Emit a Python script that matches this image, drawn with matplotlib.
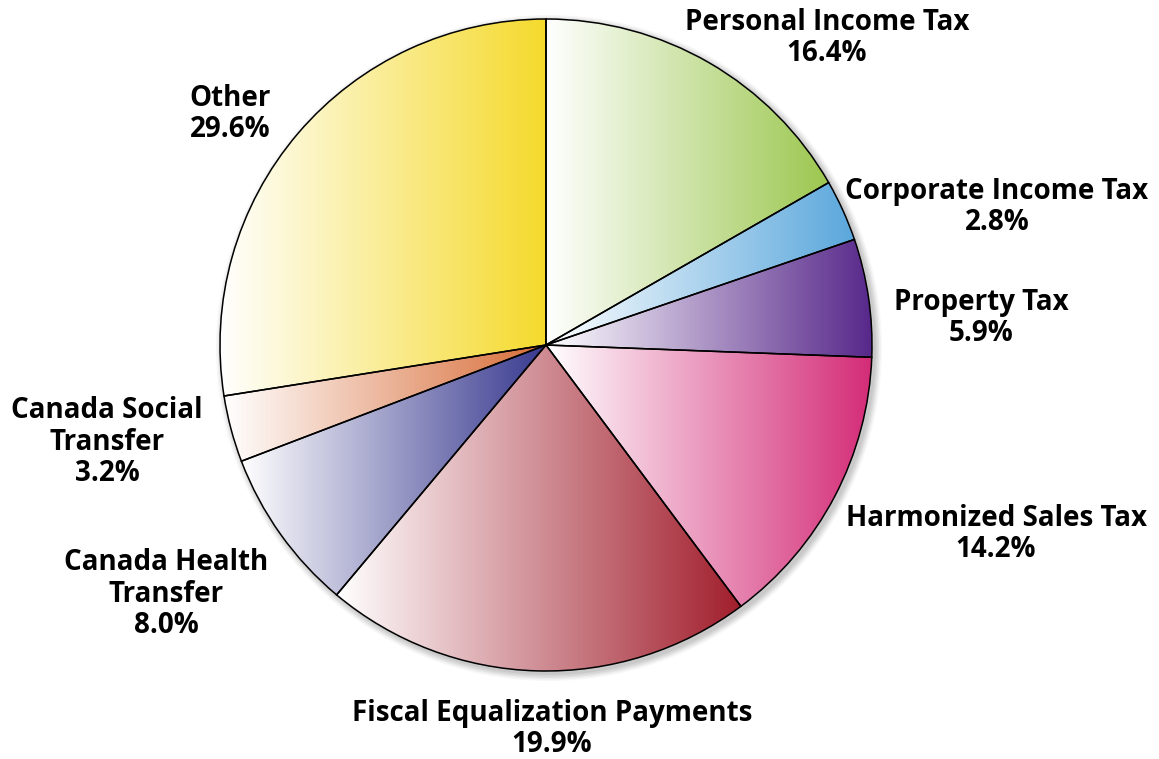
import matplotlib.pyplot as plt
import matplotlib.patches as mpatches
import numpy as np

# printed percentages (labels)
categories = ['Personal Income Tax', 'Corporate Income Tax', 'Property Tax',
              'Harmonized Sales Tax', 'Fiscal Equalization Payments',
              'Canada Health\nTransfer', 'Canada Social\nTransfer', 'Other']
shares = [16.4, 2.8, 5.9, 14.2, 19.9, 8.0, 3.2, 29.6]
# wedge sizes as actually drawn in the original (read off the slice angles,
# they don't quite match the printed numbers)
wedge_sizes = [16.7, 3.05, 5.85, 14.2, 21.3, 8.1, 3.3, 27.5]
colors = ['#9cc74f', '#5aa7dc', '#57288a', '#d42c77', '#a11e2c',
          '#38398f', '#d86c37', '#f5da2c']

# label block centres in pixel space (x, y from top)
label_pos = [(827, 38), (997, 207), (981, 318), (996, 534),
             (552, 729), (166, 594), (107, 442), (230, 114)]

W, H = 1159, 759
fig = plt.figure(figsize=(W / 100, H / 100), dpi=100)
ax = fig.add_axes([0, 0, 1, 1])

cx, cy, r = 546, H - 345, 326

# soft drop shadow
for i, a in enumerate([0.05, 0.05, 0.05, 0.04, 0.03]):
    ax.add_patch(mpatches.Circle((cx + 3, cy - 3), r + 1 + i * 1.5,
                                 color='black', alpha=a, lw=0, zorder=0))
ax.add_patch(mpatches.Circle((cx, cy), r, color='white', lw=0, zorder=0.5))

wedges, _ = ax.pie(wedge_sizes, radius=r, center=(cx, cy), startangle=90,
                   counterclock=False, normalize=True,
                   wedgeprops=dict(edgecolor='black', linewidth=1.1),
                   frame=True)
ax.set_aspect('equal')
ax.axis('off')

t = np.linspace(0, 1, 256)
for w, col in zip(wedges, colors):
    c = np.array(plt.matplotlib.colors.to_rgb(col))
    grad = (1 - t)[:, None] * np.ones(3) + t[:, None] * c
    img = np.repeat(grad[None, :, :], 2, axis=0)
    th = np.radians(np.linspace(w.theta1, w.theta2, 200))
    xs = np.concatenate([[cx], cx + r * np.cos(th)])
    x0, x1 = xs.min(), xs.max()
    im = ax.imshow(img, extent=[x0, x1, cy - r, cy + r], aspect='auto',
                   interpolation='bilinear', zorder=1)
    im.set_clip_path(w)
    w.set_facecolor('none')
    w.set_zorder(2)

for name, val, (lx, ly) in zip(categories, shares, label_pos):
    ax.text(lx, H - ly, f'{name}\n{val:.1f}%', ha='center', va='center',
            multialignment='center', fontsize=20, fontweight='bold',
            family='Open Sans', linespacing=1.12, color='black', zorder=3)

ax.set_xlim(0, W)
ax.set_ylim(0, H)
fig.savefig('out.png', dpi=100, facecolor='white')
